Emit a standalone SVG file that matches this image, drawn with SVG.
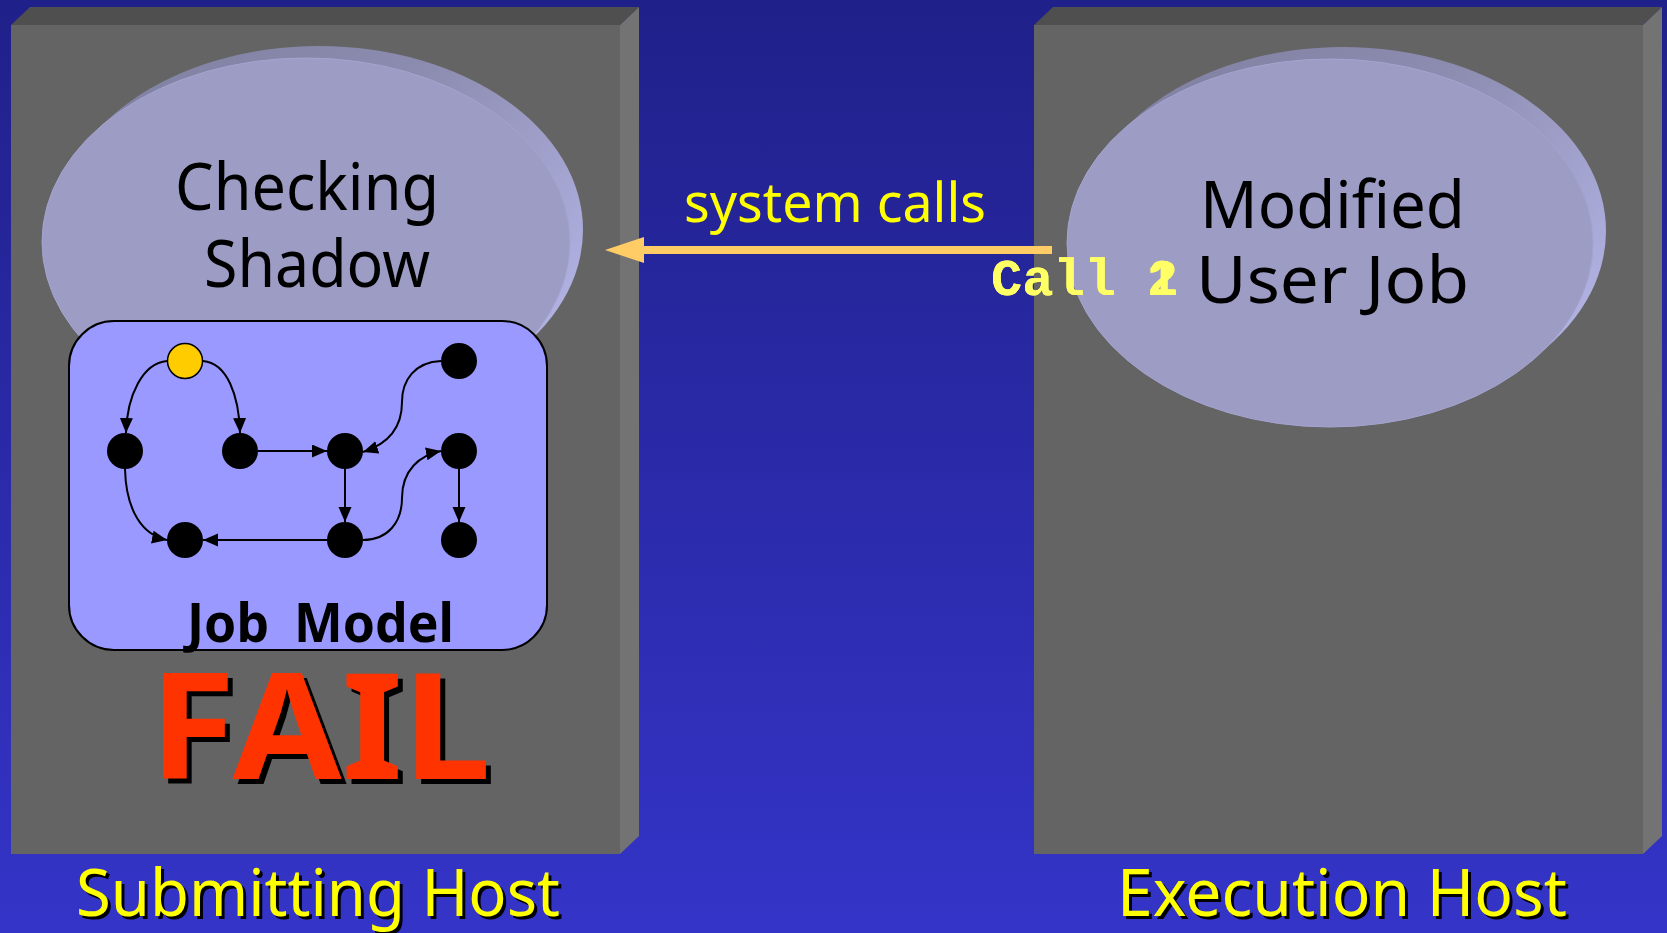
<svg xmlns="http://www.w3.org/2000/svg" width="1667" height="933" viewBox="0 0 1667 933">
  <defs>
    <linearGradient id="bg" x1="0" y1="0" x2="0" y2="1">
      <stop offset="0" stop-color="#20208a"/>
      <stop offset="1" stop-color="#3434c8"/>
    </linearGradient>
    <linearGradient id="rim" x1="0" y1="0" x2="1" y2="0.7">
      <stop offset="0" stop-color="#7e7ea0"/>
      <stop offset="0.5" stop-color="#8c8cb0"/>
      <stop offset="1" stop-color="#b2b2e4"/>
    </linearGradient>
    <marker id="ah" markerUnits="userSpaceOnUse" markerWidth="16" markerHeight="14" refX="15" refY="6.5" orient="auto">
      <path d="M0,0 L15,6.5 L0,13 Z" fill="#000"/>
    </marker>
    <style>
      .front { fill: #646464; }
      .top { fill: #4f4f4f; }
      .side { fill: #737373; }
      .rim { fill: url(#rim); }
      .face { fill: #9c9cc4; stroke: #a4a4d0; stroke-width: 1; }
      .comic { font-family: "Noto Sans", "DejaVu Sans", sans-serif; }
      .big { font-size: 66px; fill: #000; }
      .label { font-size: 66px; fill: #ffff00; }
      .shadow { fill: #000; }
      .node { fill: #000; }
      .edge { fill: none; stroke: #000; stroke-width: 2; marker-end: url(#ah); }
      .mono { font-family: "Liberation Mono", "Courier New", monospace; font-weight: bold; font-size: 52px; fill: #ffff66; }
    </style>
  </defs>

  <rect x="0" y="0" width="1667" height="933" fill="url(#bg)"/>

  <!-- Submitting host block -->
  <g id="submitting-host">
    <polygon class="top" points="11,25 30,7 639,7 620,25"/>
    <polygon class="side" points="620,25 639,7 639,836 620,854"/>
    <rect class="front" x="11" y="25" width="609" height="829"/>
    <text class="comic label shadow" x="79" y="919" textLength="484" lengthAdjust="spacingAndGlyphs">Submitting Host</text>
    <text class="comic label" x="76" y="916" textLength="484" lengthAdjust="spacingAndGlyphs">Submitting Host</text>
  </g>

  <!-- Execution host block -->
  <g id="execution-host">
    <polygon class="top" points="1034,25 1053,7 1662,7 1643,25"/>
    <polygon class="side" points="1643,25 1662,7 1662,836 1643,854"/>
    <rect class="front" x="1034" y="25" width="609" height="829"/>
    <text class="comic label shadow" x="1120" y="919" textLength="450" lengthAdjust="spacingAndGlyphs">Execution Host</text>
    <text class="comic label" x="1117" y="916" textLength="450" lengthAdjust="spacingAndGlyphs">Execution Host</text>
  </g>

  <!-- Checking shadow disk -->
  <g id="checking-shadow">
    <ellipse class="rim" cx="319" cy="230" rx="264" ry="184"/>
    <ellipse class="face" cx="306" cy="242" rx="264" ry="184"/>
    <text class="comic big" x="175" y="210" textLength="264" lengthAdjust="spacingAndGlyphs">Checking</text>
    <text class="comic big" x="204" y="287" textLength="226" lengthAdjust="spacingAndGlyphs">Shadow</text>
  </g>

  <!-- Modified user job disk -->
  <g id="modified-user-job">
    <ellipse class="rim" cx="1343" cy="231" rx="263" ry="184"/>
    <ellipse class="face" cx="1330" cy="243" rx="263" ry="184"/>
    <text class="comic big" x="1200" y="228" textLength="265" lengthAdjust="spacingAndGlyphs">Modified</text>
    <text class="comic big" x="1196" y="303" textLength="273" lengthAdjust="spacingAndGlyphs">User Job</text>
  </g>

  <!-- Job model panel -->
  <g id="job-model">
    <rect x="69" y="321" width="478" height="329" rx="45" ry="45" fill="#9999ff" stroke="#000" stroke-width="2"/>
    <text class="comic" x="187" y="642" font-size="54" font-weight="bold" fill="#000" word-spacing="12" textLength="267" lengthAdjust="spacingAndGlyphs">Job Model</text>
  </g>

  <!-- Job model graph nodes -->
  <g id="node-start"><circle cx="185" cy="361" r="17.5" fill="#ffcc00" stroke="#000" stroke-width="1.5"/></g>
  <g id="node-a"><circle class="node" cx="125" cy="451" r="18"/></g>
  <g id="node-b"><circle class="node" cx="240" cy="451" r="18"/></g>
  <g id="node-c"><circle class="node" cx="345" cy="451" r="18"/></g>
  <g id="node-d"><circle class="node" cx="459" cy="361" r="18"/></g>
  <g id="node-e"><circle class="node" cx="459" cy="451" r="18"/></g>
  <g id="node-f"><circle class="node" cx="185" cy="540" r="18"/></g>
  <g id="node-g"><circle class="node" cx="345" cy="540" r="18"/></g>
  <g id="node-h"><circle class="node" cx="459" cy="540" r="18"/></g>

  <!-- Graph connectors -->
  <g id="connectors">
    <path class="edge" d="M167,361 C143,363 127,395 126,433"/>
    <path class="edge" d="M203,361 C227,363 239,395 240,433"/>
    <path class="edge" d="M258,451 L327,451"/>
    <path class="edge" d="M441,361 C415,362 402,380 402,402 C402,430 385,445 363,452"/>
    <path class="edge" d="M345,469 L345,522"/>
    <path class="edge" d="M363,540 C388,540 402,522 402,498 C402,470 420,455 441,451"/>
    <path class="edge" d="M459,469 L459,522"/>
    <path class="edge" d="M327,540 L203,540"/>
    <path class="edge" d="M125,469 C126,510 142,535 167,540"/>
    <!-- system call arrow between hosts -->
    <line x1="1052" y1="250" x2="640" y2="250" stroke="#ffcc66" stroke-width="8"/>
    <polygon points="605,250 644,237 644,263" fill="#ffcc66"/>
  </g>

  <text class="comic" x="684" y="222" font-size="54" fill="#ffff00" textLength="302" lengthAdjust="spacingAndGlyphs">system calls</text>

  <!-- overlapping call counters -->
  <g id="call-counter">
    <text class="mono" x="991" y="295">Call 1</text>
    <text class="mono" x="991" y="295">Call 2</text>
  </g>

  <!-- failure stamp -->
  <g id="fail">
    <text class="comic" x="154" y="784" font-size="148" font-weight="bold" fill="#000" textLength="342" lengthAdjust="spacingAndGlyphs">FAIL</text>
    <text class="comic" x="149" y="779" font-size="148" font-weight="bold" fill="#ff3300" textLength="342" lengthAdjust="spacingAndGlyphs">FAIL</text>
  </g>
</svg>
